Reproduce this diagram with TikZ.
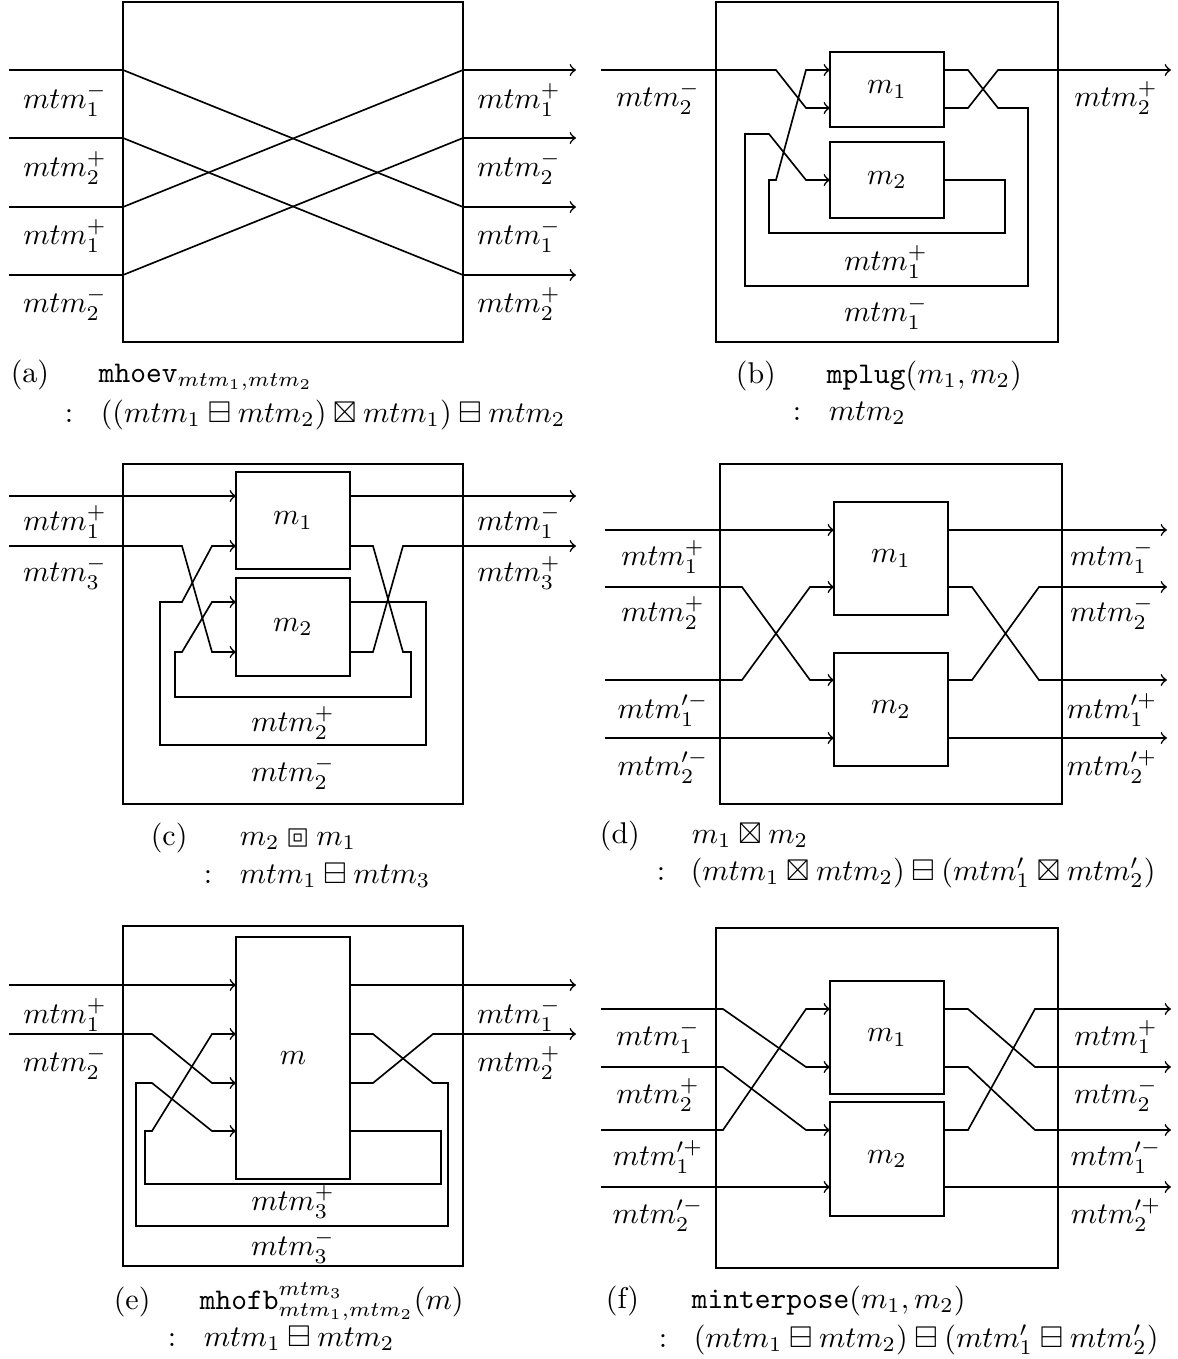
\documentclass[tikz,border=0pt]{standalone}
\usepackage{amssymb}
\usepackage{stmaryrd}
\usetikzlibrary{arrows}

\def\px{0.3333pt}
\tikzstyle{outer}=[draw, inner sep=0pt, outer sep=0pt]
\tikzstyle{mbox}=[draw, inner sep=0pt, outer sep=0pt, minimum width=114*\px]
\tikzstyle{wire}=[->]
\tikzstyle{lab}=[inner sep=0pt]
\tikzstyle{capt}=[anchor=base west, inner sep=0pt]

\begin{document}
\begin{tikzpicture}[x=\px, y=-\px, line width=0.55pt]
        \useasboundingbox (0,0) rectangle (1177,1359);

        % (a) mhoev
        \draw (293,172) node[outer,minimum width=340*\px,minimum height=340*\px](abox){};
        \coordinate (ain1) at (9,70);   \coordinate (aout1) at (576,70);
        \coordinate (ain2) at (9,138);  \coordinate (aout2) at (576,138);
        \coordinate (ain3) at (9,207);  \coordinate (aout3) at (576,207);
        \coordinate (ain4) at (9,275);  \coordinate (aout4) at (576,275);
        \draw[wire] (ain1) -- (abox.west |- ain1) -- (abox.east |- aout3) -- (aout3);
        \draw[wire] (ain2) -- (abox.west |- ain2) -- (abox.east |- aout4) -- (aout4);
        \draw[wire] (ain3) -- (abox.west |- ain3) -- (abox.east |- aout1) -- (aout1);
        \draw[wire] (ain4) -- (abox.west |- ain4) -- (abox.east |- aout2) -- (aout2);
        \draw (65,100) node[lab](al1){$mtm_1^-$};
        \draw (65,168) node[lab](al2){$mtm_2^+$};
        \draw (65,236) node[lab](al3){$mtm_1^+$};
        \draw (65,304) node[lab](al4){$mtm_2^-$};
        \draw (519,100) node[lab](ar1){$mtm_1^+$};
        \draw (519,168) node[lab](ar2){$mtm_2^-$};
        \draw (519,236) node[lab](ar3){$mtm_1^-$};
        \draw (519,304) node[lab](ar4){$mtm_2^+$};
        \draw (10,382) node[capt](acap){(a)};
        \draw (98,382) node[capt](acap1){$\mathtt{mhoev}_{mtm_1,mtm_2}$};
        \draw (64,422) node[capt](acol){$:$};
        \draw (100,422) node[capt](acap2){$((mtm_1 \boxminus mtm_2) \boxtimes mtm_1) \boxminus mtm_2$};

        % (b) mplug
        \draw (887,172) node[outer,minimum width=342*\px,minimum height=340*\px](bbox){};
        \draw (887,89.5) node[mbox,minimum height=75*\px](bm1){$m_1$};
        \draw (887,180) node[mbox,minimum height=76*\px](bm2){$m_2$};
        \coordinate (bin) at (601,70);  \coordinate (bout) at (1171,70);
        \coordinate (bm1i1) at (830,70);  \coordinate (bm1o1) at (944,70);
        \coordinate (bm1i2) at (830,108); \coordinate (bm1o2) at (944,108);
        \coordinate (bm2i) at (830,180);  \coordinate (bm2o) at (944,180);
        \draw[wire] (bin) -- (776,70) -- (806,108) -- (bm1i2);
        \draw[wire] (bm2o) -- (1005,180) -- (1005,233) -- (769,233) -- (769,180) -- (776,180) -- (806,70) -- (bm1i1);
        \draw[wire] (bm1o1) -- (968,70) -- (998,108) -- (1028,108) -- (1028,286) -- (745,286) -- (745,134) -- (769,134) -- (806,180) -- (bm2i);
        \draw[wire] (bm1o2) -- (968,108) -- (998,70) -- (bout);
        \draw (658,98) node[lab](bl1){$mtm_2^-$};
        \draw (1116,98) node[lab](br1){$mtm_2^+$};
        \draw (886,262) node[lab](bl2){$mtm_1^+$};
        \draw (886,313) node[lab](bl3){$mtm_1^-$};
        \draw (735,383) node[capt](bcap){(b)};
        \draw (826,383) node[capt](bcap1){$\mathtt{mplug}(m_1,m_2)$};
        \draw (792,420) node[capt](bcol){$:$};
        \draw (828,420) node[capt](bcap2){$mtm_2$};

        % (c) m2 boxbox m1
        \draw (293,634) node[outer,minimum width=340*\px,minimum height=340*\px](cbox){};
        \draw (293,520.5) node[mbox,minimum height=97*\px](cm1){$m_1$};
        \draw (293,627) node[mbox,minimum height=98*\px](cm2){$m_2$};
        \coordinate (cin1) at (9,496);  \coordinate (cout1) at (576,496);
        \coordinate (cin2) at (9,546);  \coordinate (cout2) at (576,546);
        \coordinate (cm1i1) at (236,496); \coordinate (cm1o1) at (350,496);
        \coordinate (cm1i2) at (236,546); \coordinate (cm1o2) at (350,546);
        \coordinate (cm2i1) at (236,602); \coordinate (cm2o1) at (350,602);
        \coordinate (cm2i2) at (236,652); \coordinate (cm2o2) at (350,652);
        \draw[wire] (cin1) -- (cm1i1);
        \draw[wire] (cin2) -- (182,546) -- (212,652) -- (cm2i2);
        \draw[wire] (cm2o1) -- (426,602) -- (426,745) -- (160,745) -- (160,602) -- (182,602) -- (212,546) -- (cm1i2);
        \draw[wire] (cm1o2) -- (373,546) -- (403,652) -- (411,652) -- (411,697) -- (175,697) -- (175,652) -- (182,652) -- (212,602) -- (cm2i1);
        \draw[wire] (cm2o2) -- (373,652) -- (403,546) -- (cout2);
        \draw[wire] (cm1o1) -- (cout1);
        \draw (65,522) node[lab](cl1){$mtm_1^+$};
        \draw (65,573) node[lab](cl2){$mtm_3^-$};
        \draw (519,522) node[lab](cr1){$mtm_1^-$};
        \draw (519,573) node[lab](cr2){$mtm_3^+$};
        \draw (293,723) node[lab](cl3){$mtm_2^+$};
        \draw (293,773) node[lab](cl4){$mtm_2^-$};
        \draw (150,845) node[capt](ccap){(c)};
        \draw (239,845) node[capt](ccap1){$m_2 \boxbox m_1$};
        \draw (203,883) node[capt](ccol){$:$};
        \draw (239,883) node[capt](ccap2){$mtm_1 \boxminus mtm_3$};

        % (d) m1 boxtimes m2
        \draw (891,634) node[outer,minimum width=342*\px,minimum height=340*\px](dbox){};
        \draw (891,558.5) node[mbox,minimum height=113*\px](dm1){$m_1$};
        \draw (891,709.5) node[mbox,minimum height=113*\px](dm2){$m_2$};
        \coordinate (din1) at (605,530);  \coordinate (dout1) at (1167,530);
        \coordinate (din2) at (605,587);  \coordinate (dout2) at (1167,587);
        \coordinate (din3) at (605,680);  \coordinate (dout3) at (1167,680);
        \coordinate (din4) at (605,738);  \coordinate (dout4) at (1167,738);
        \draw[wire] (din1) -- (dm1.west |- din1);
        \draw[wire] (din2) -- (742,587) -- (810,680) -- (dm2.west |- din3);
        \draw[wire] (din3) -- (742,680) -- (810,587) -- (dm1.west |- din2);
        \draw[wire] (din4) -- (dm2.west |- din4);
        \draw[wire] (dm1.east |- dout1) -- (dout1);
        \draw[wire] (dm1.east |- dout2) -- (972,587) -- (1039,680) -- (dout3);
        \draw[wire] (dm2.east |- dout3) -- (972,680) -- (1039,587) -- (dout2);
        \draw[wire] (dm2.east |- dout4) -- (dout4);
        \draw (663,557) node[lab](dl1){$mtm_1^+$};
        \draw (663,613) node[lab](dl2){$mtm_2^+$};
        \draw (663,710) node[lab](dl3){$mtm^{\prime-}_1$};
        \draw (663,767) node[lab](dl4){$mtm^{\prime-}_2$};
        \draw (1112,557) node[lab](dr1){$mtm_1^-$};
        \draw (1112,613) node[lab](dr2){$mtm_2^-$};
        \draw (1112,710) node[lab](dr3){$mtm^{\prime+}_1$};
        \draw (1112,767) node[lab](dr4){$mtm^{\prime+}_2$};
        \draw (599,843) node[capt](dcap){(d)};
        \draw (691,843) node[capt](dcap1){$m_1 \boxtimes m_2$};
        \draw (656,880) node[capt](dcol){$:$};
        \draw (690,880) node[capt](dcap2){$(mtm_1 \boxtimes mtm_2) \boxminus (mtm'_1 \boxtimes mtm'_2)$};

        % (e) mhofb
        \draw (293,1096) node[outer,minimum width=340*\px,minimum height=340*\px](ebox){};
        \draw (293,1058) node[mbox,minimum height=242*\px](em){$m$};
        \coordinate (ein1) at (9,985);   \coordinate (eout1) at (576,985);
        \coordinate (ein2) at (9,1034);  \coordinate (eout2) at (576,1034);
        \coordinate (ei1) at (236,985);  \coordinate (eo1) at (350,985);
        \coordinate (ei2) at (236,1034); \coordinate (eo2) at (350,1034);
        \coordinate (ei3) at (236,1083); \coordinate (eo3) at (350,1083);
        \coordinate (ei4) at (236,1131); \coordinate (eo4) at (350,1131);
        \draw[wire] (ein1) -- (ei1);
        \draw[wire] (ein2) -- (152,1034) -- (212,1083) -- (ei3);
        \draw[wire] (eo4) -- (441,1131) -- (441,1184) -- (145,1184) -- (145,1131) -- (152,1131) -- (212,1034) -- (ei2);
        \draw[wire] (eo2) -- (373,1034) -- (433,1083) -- (448,1083) -- (448,1226) -- (136,1226) -- (136,1083) -- (152,1083) -- (212,1131) -- (ei4);
        \draw[wire] (eo3) -- (373,1083) -- (433,1034) -- (eout2);
        \draw[wire] (eo1) -- (eout1);
        \draw (65,1015) node[lab](el1){$mtm_1^+$};
        \draw (65,1063) node[lab](el2){$mtm_2^-$};
        \draw (519,1015) node[lab](er1){$mtm_1^-$};
        \draw (519,1063) node[lab](er2){$mtm_2^+$};
        \draw (293,1202) node[lab](el3){$mtm_3^+$};
        \draw (293,1247) node[lab](el4){$mtm_3^-$};
        \draw (113,1309) node[capt](ecap){(e)};
        \draw (199,1309) node[capt](ecap1){$\mathtt{mhofb}^{mtm_3}_{mtm_1,mtm_2}(m)$};
        \draw (167,1346) node[capt](ecol){$:$};
        \draw (203,1346) node[capt](ecap2){$mtm_1 \boxminus mtm_2$};

        % (f) minterpose
        \draw (887,1098) node[outer,minimum width=342*\px,minimum height=340*\px](fbox){};
        \draw (887,1037.5) node[mbox,minimum height=113*\px](fm1){$m_1$};
        \draw (887,1159) node[mbox,minimum height=114*\px](fm2){$m_2$};
        \coordinate (fin1) at (601,1009);  \coordinate (fout1) at (1171,1009);
        \coordinate (fin2) at (601,1067);  \coordinate (fout2) at (1171,1067);
        \coordinate (fin3) at (601,1130);  \coordinate (fout3) at (1171,1130);
        \coordinate (fin4) at (601,1187);  \coordinate (fout4) at (1171,1187);
        \draw[wire] (fin1) -- (723,1009) -- (806,1067) -- (fm1.west |- fin2);
        \draw[wire] (fin2) -- (723,1067) -- (806,1130) -- (fm2.west |- fin3);
        \draw[wire] (fin3) -- (723,1130) -- (806,1009) -- (fm1.west |- fin1);
        \draw[wire] (fin4) -- (fm2.west |- fin4);
        \draw[wire] (fm1.east |- fout1) -- (968,1009) -- (1035,1067) -- (fout2);
        \draw[wire] (fm1.east |- fout2) -- (968,1067) -- (1035,1130) -- (fout3);
        \draw[wire] (fm2.east |- fout3) -- (968,1130) -- (1035,1009) -- (fout1);
        \draw[wire] (fm2.east |- fout4) -- (fout4);
        \draw (658,1037) node[lab](fl1){$mtm_1^-$};
        \draw (658,1095) node[lab](fl2){$mtm_2^+$};
        \draw (658,1157) node[lab](fl3){$mtm^{\prime+}_1$};
        \draw (658,1215) node[lab](fl4){$mtm^{\prime-}_2$};
        \draw (1116,1037) node[lab](fr1){$mtm_1^+$};
        \draw (1116,1095) node[lab](fr2){$mtm_2^-$};
        \draw (1116,1157) node[lab](fr3){$mtm^{\prime-}_1$};
        \draw (1116,1215) node[lab](fr4){$mtm^{\prime+}_2$};
        \draw (605,1308) node[capt](fcap){(f)};
        \draw (691,1308) node[capt](fcap1){$\mathtt{minterpose}(m_1,m_2)$};
        \draw (658,1347) node[capt](fcol){$:$};
        \draw (693,1347) node[capt](fcap2){$(mtm_1 \boxminus mtm_2) \boxminus (mtm'_1 \boxminus mtm'_2)$};
\end{tikzpicture}
\end{document}
